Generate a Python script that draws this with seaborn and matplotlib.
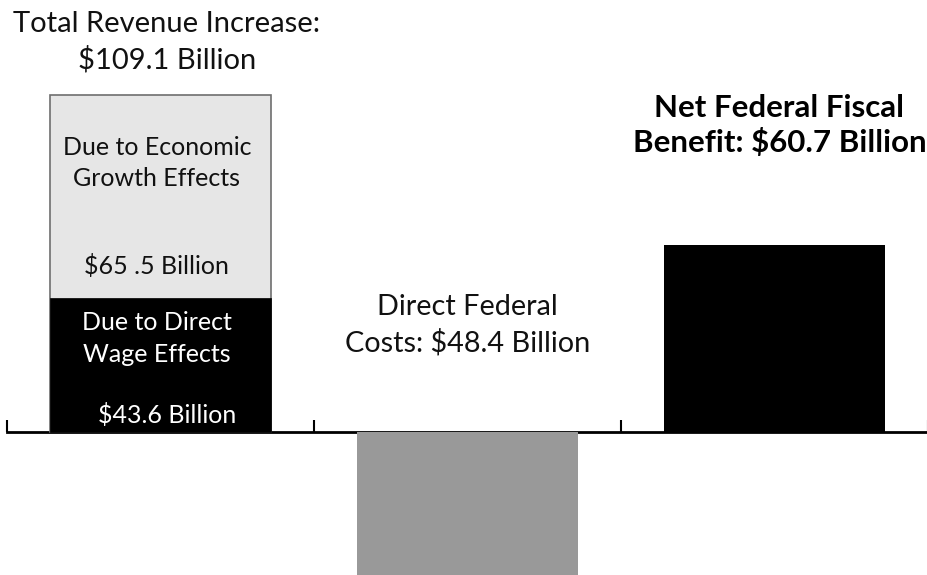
import pandas as pd
import matplotlib.pyplot as plt
import seaborn as sns

# values in billions of dollars
categories = ['Revenue', 'Costs', 'Net']
totals = [109.1, -48.4, 60.7]          # full height of each bar
wage_effect = 43.6                     # lower (black) part of the revenue bar
growth_effect = 65.5                   # upper (light) part of the revenue bar
bar_colors = ['#e6e6e6', '#999999', '#000000']

sns.set_theme(style='white')
plt.rcParams['font.family'] = ['Lato', 'DejaVu Sans']

fig = plt.figure(figsize=(9.28, 5.75), dpi=100)
ax = fig.add_axes([0, 0, 1, 1])

df = pd.DataFrame({'cat': categories, 'val': totals})
sns.barplot(data=df, x='cat', y='val', hue='cat', palette=bar_colors,
            order=categories, width=0.72, legend=False, ax=ax,
            edgecolor='none', linewidth=0)
# outline only the light revenue bar
ax.patches[0].set_edgecolor('#6e6e6e')
ax.patches[0].set_linewidth(1.2)

df_wage = pd.DataFrame({'cat': ['Revenue'], 'val': [wage_effect]})
sns.barplot(data=df_wage, x='cat', y='val', color='black', order=categories,
            width=0.72, ax=ax, edgecolor='black', linewidth=0.5)

ax.set_xlim(-0.524, 2.498)
ax.set_ylim(-46.1, 139.8)

# baseline with upward ticks between categories
for s in ['top', 'left', 'right']:
    ax.spines[s].set_visible(False)
ax.spines['bottom'].set_position(('data', 0))
ax.spines['bottom'].set_bounds(-0.5, 2.5)
ax.spines['bottom'].set_linewidth(2)
ax.spines['bottom'].set_color('black')
ax.spines['bottom'].set_zorder(0.5)
ax.set_xticks([-0.5, 0.5, 1.5, 2.5])
ax.set_xticklabels([])
ax.set_yticks([])
ax.tick_params(axis='x', direction='in', length=9, width=1.5, color='black', bottom=True)
ax.set_axisbelow(True)
ax.set_xlabel('')
ax.set_ylabel('')

fs = 18
ax.text(0.02, 126.3, 'Total Revenue Increase:\n$109.1 Billion', ha='center', va='center',
        fontsize=21, color='#111111', linespacing=1.4)
ax.text(-0.013, 87.1, 'Due to Economic\nGrowth Effects', ha='center', va='center',
        fontsize=fs, color='#111111', linespacing=1.45)
ax.text(-0.013, 53.8, '$%g .%d Billion' % (int(growth_effect), round(growth_effect % 1 * 10)),
        ha='center', va='center', fontsize=fs, color='#111111')
ax.text(-0.013, 30.3, 'Due to Direct\nWage Effects', ha='center', va='center',
        fontsize=fs, color='white', linespacing=1.45)
ax.text(0.02, 5.7, '$%.1f Billion' % wage_effect, ha='center', va='center',
        fontsize=fs, color='white')
ax.text(1.0, 34.8, 'Direct Federal\nCosts: $%.1f Billion' % -totals[1], ha='center', va='center',
        fontsize=20.8, color='#111111', linespacing=1.4)
ax.text(2.016, 99.2, 'Net Federal Fiscal\nBenefit: $%.1f Billion' % totals[2], ha='center',
        va='center', fontsize=22.5, fontweight='bold', color='black', linespacing=1.25)

fig.savefig('out.png', dpi=100)
